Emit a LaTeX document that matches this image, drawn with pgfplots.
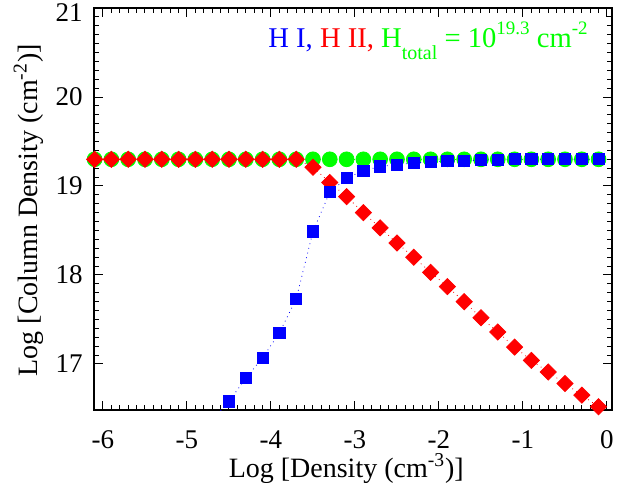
\documentclass[border=0pt]{standalone}
\usepackage{fontspec}
\setmainfont{Liberation Serif}
\usepackage{pgfplots}
\pgfplotsset{compat=1.18}
\definecolor{idlgreen}{RGB}{0,255,0}
\definecolor{idlred}{RGB}{255,0,0}
\definecolor{idlblue}{RGB}{0,0,255}
\begin{document}
\begin{tikzpicture}
\useasboundingbox (-47pt,-36pt) rectangle (268pt,205pt);
\begin{axis}[
  scale only axis, width=259pt, height=201pt,
  xmin=-6.107, xmax=0.06, ymin=16.483, ymax=21,
  clip mode=individual,
  xtick={-6,-5,-4,-3,-2,-1,0},
  xticklabels={\textrm{-6},\textrm{-5},\textrm{-4},\textrm{-3},\textrm{-2},\textrm{-1},\textrm{0}},
  ytick={17,18,19,20,21},
  yticklabels={\textrm{17},\textrm{18},\textrm{19},\textrm{20},\raisebox{-2.5pt}[\height][0pt]{\textrm{21}}},
  minor x tick num=9, minor y tick num=9,
  major tick length=4.5pt, minor tick length=2.5pt,
  tick style={black, line width=0.5pt},
  axis line style={line width=0.6pt},
  tick label style={font=\fontsize{13.5}{16}\selectfont},
  xticklabel style={anchor=base, yshift=-19pt, inner sep=0pt},
  yticklabel style={anchor=east, inner sep=0pt, xshift=-5.5pt},
]
% H total
\addplot[idlgreen, dotted, line width=0.4pt, mark=*, mark size=3.7pt,
  mark options={solid, fill=idlgreen, draw=idlgreen}] coordinates {
(-6.1,19.3)(-5.9,19.3)(-5.7,19.3)(-5.5,19.3)(-5.3,19.3)(-5.1,19.3)(-4.9,19.3)(-4.7,19.3)
(-4.5,19.3)(-4.3,19.3)(-4.1,19.3)(-3.9,19.3)(-3.7,19.3)(-3.5,19.3)(-3.3,19.3)(-3.1,19.3)
(-2.9,19.3)(-2.7,19.3)(-2.5,19.3)(-2.3,19.3)(-2.1,19.3)(-1.9,19.3)(-1.7,19.3)(-1.5,19.3)
(-1.3,19.3)(-1.1,19.3)(-0.9,19.3)(-0.7,19.3)(-0.5,19.3)(-0.3,19.3)(-0.1,19.3)
};
% H II
\addplot[idlred, dotted, line width=0.4pt, mark=square*, mark size=2.85pt,
  mark options={solid, fill=idlred, draw=idlred, rotate=45}] coordinates {
(-6.1,19.3)(-5.9,19.3)(-5.7,19.3)(-5.5,19.3)(-5.3,19.3)(-5.1,19.3)(-4.9,19.3)(-4.7,19.3)
(-4.5,19.3)(-4.3,19.3)(-4.1,19.3)(-3.9,19.3)(-3.7,19.3)(-3.5,19.21)(-3.3,19.04)(-3.1,18.88)
(-2.9,18.70)(-2.7,18.53)(-2.5,18.36)(-2.3,18.20)(-2.1,18.03)(-1.9,17.87)(-1.7,17.70)(-1.5,17.52)
(-1.3,17.36)(-1.1,17.19)(-0.9,17.04)(-0.7,16.91)(-0.5,16.78)(-0.3,16.65)(-0.1,16.52)
};
% H I
\addplot[idlblue, dotted, line width=0.4pt, mark=square*, mark size=2.8pt,
  mark options={solid, fill=idlblue, draw=idlblue}] coordinates {
(-4.9,16.15)(-4.7,16.37)(-4.5,16.58)(-4.3,16.84)(-4.1,17.07)(-3.9,17.35)(-3.7,17.73)(-3.5,18.49)
(-3.3,18.93)(-3.1,19.09)(-2.9,19.17)(-2.7,19.22)(-2.5,19.24)(-2.3,19.26)(-2.1,19.27)(-1.9,19.28)
(-1.7,19.28)(-1.5,19.29)(-1.3,19.29)(-1.1,19.30)(-0.9,19.30)(-0.7,19.30)(-0.5,19.30)(-0.3,19.30)
(-0.1,19.30)
};
\coordinate (xl) at (rel axis cs:0.487,-0.167);
\coordinate (yl) at (rel axis cs:-0.110,0.497);
\node[anchor=base east, inner sep=0pt, font=\fontsize{14.3}{17}\selectfont]
  at (axis cs:-0.226,20.551)
  {{\color{idlblue}H I,} {\color{idlred}H II,} {\color{idlgreen}H\raisebox{-6pt}{\fontsize{10}{12}\selectfont total} = 10\raisebox{6.5pt}{\fontsize{9.5}{11}\selectfont 19.3} cm\raisebox{6.5pt}{\fontsize{9.5}{11}\selectfont -2}}};
\end{axis}
\node[anchor=base, inner sep=0pt, font=\fontsize{14}{17}\selectfont] at (xl)
  {Log [Density (cm\textsuperscript{-3})]};
\node[anchor=base, rotate=90, inner sep=0pt, font=\fontsize{14}{17}\selectfont] at (yl)
  {Log [Column Density (cm\textsuperscript{-2})]};
\end{tikzpicture}
\end{document}
